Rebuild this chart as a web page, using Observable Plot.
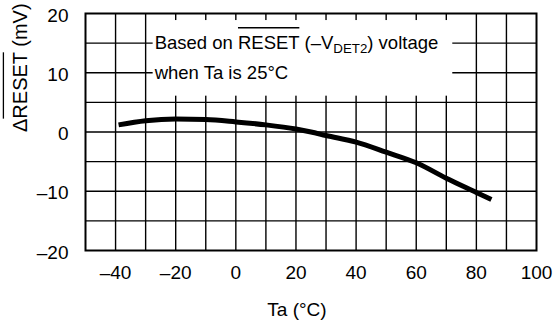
<!DOCTYPE html>
<html><head><meta charset="utf-8">
<script src="https://cdn.jsdelivr.net/npm/d3@7"></script>
<script src="https://cdn.jsdelivr.net/npm/@observablehq/plot@0.6"></script>
<style>html,body{margin:0;padding:0;background:#fff}</style>
</head><body><div id="chart"></div>
<script>
// ---- data ----
const ta = [-39, -30, -20, -10, 0, 10, 20, 25, 30, 40, 50, 60, 70, 80, 85];
const dReset = [1.2, 1.9, 2.2, 2.1, 1.7, 1.2, 0.5, 0, -0.6, -1.7, -3.4, -5.2, -7.8, -10.2, -11.4];
const xTicks = [-40, -20, 0, 20, 40, 60, 80, 100];
const xTickLabels = ["–40", "–20", "0", "20", "40", "60", "80", "100"];
const yTicks = [-20, -10, 0, 10, 20];
const yTickLabels = ["–20", "–10", "0", "10", "20"];
const xGrid = [-40, -30, -20, -10, 0, 10, 20, 30, 40, 50, 60, 70, 80, 90];
const yGrid = [-15, -10, -5, 0, 5, 10, 15];
const annoParts1 = [["Based on ", ""], ["RESET", "over"], [" (–V", ""], ["DET2", "sub"], [") voltage", ""]];
const annoText2 = "when Ta is 25°C";
const annoX = -27;
const annoY = [15, 10];
const yLabelParts = [["Δ", ""], ["RESET", "over"], [" (mV)", ""]];
const xLabel = "Ta (°C)";

const plain = parts => parts.map(p => p[0]).join("");
const annoLines = [plain(annoParts1), annoText2];
const rows = ta.map((t, i) => ({t, v: dReset[i]}));

const plot = Plot.plot({
  width: 553, height: 324,
  marginLeft: 85, marginRight: 17, marginTop: 13, marginBottom: 74,
  style: {fontFamily: "'Liberation Sans', Arial, sans-serif", color: "#000", background: "#fff", overflow: "visible"},
  x: {domain: [-50, 100]},
  y: {domain: [-20, 20]},
  marks: [
    Plot.ruleX(xGrid, {stroke: "#000", strokeWidth: 1.4}),
    Plot.ruleY(yGrid, {stroke: "#000", strokeWidth: 1.4}),
    Plot.line(rows, {x: "t", y: "v", stroke: "#000", strokeWidth: 5, strokeLinecap: "butt", curve: "monotone-x"}),
    Plot.frame({stroke: "#000", strokeWidth: 2}),
    Plot.text(annoLines, {x: () => annoX, y: (d, i) => annoY[i], text: d => d, textAnchor: "start", fontSize: 18.5, fill: "#000"}),
    Plot.text([plain(yLabelParts)], {frameAnchor: "left", text: d => d, rotate: -90, dx: -64.5, fontSize: 20, fill: "#000"}),
    Plot.text([xLabel], {frameAnchor: "bottom", text: d => d, dx: -14, dy: 51.5, lineAnchor: "top", fontSize: 19, fill: "#000"}),
    Plot.axisX({ticks: xTicks, tickSize: 0, tickPadding: 14.5, fontSize: 19, label: null,
      tickFormat: d => xTickLabels[xTicks.indexOf(d)]}),
    Plot.axisY({ticks: yTicks, tickSize: 0, tickPadding: 17, fontSize: 19, label: null, dy: 2,
      tickFormat: d => yTickLabels[yTicks.indexOf(d)]})
  ]
});
document.getElementById("chart").append(plot);

// ---- rich text: overlines and subscripts ----
const NS = "http://www.w3.org/2000/svg";
const allTexts = Array.from(plot.querySelectorAll("text"));
const findText = s => allTexts.find(t => t.textContent === s);

function richify(el, parts, fs) {
  el.textContent = "";
  const overs = [];
  let idx = 0, shifted = false;
  for (const [t, kind] of parts) {
    const ts = document.createElementNS(NS, "tspan");
    ts.textContent = t;
    if (kind === "sub") { ts.setAttribute("font-size", fs * 0.72); ts.setAttribute("dy", 0.19 * fs); shifted = true; }
    else if (shifted) { ts.setAttribute("dy", -0.19 * fs); shifted = false; }
    el.appendChild(ts);
    if (kind === "over") overs.push([idx, idx + t.length - 1]);
    idx += t.length;
  }
  return overs;
}
function overline(el, overs, fs, k) {
  for (const [i, j] of overs) {
    const a = el.getStartPositionOfChar(i), b = el.getEndPositionOfChar(j);
    const ln = document.createElementNS(NS, "line");
    ln.setAttribute("x1", a.x); ln.setAttribute("x2", b.x);
    ln.setAttribute("y1", a.y - k * fs); ln.setAttribute("y2", a.y - k * fs);
    ln.setAttribute("stroke", "#000"); ln.setAttribute("stroke-width", 1.3);
    const tr = el.getAttribute("transform");
    if (tr) ln.setAttribute("transform", tr);
    el.parentNode.appendChild(ln);
  }
}

const a1 = findText(annoLines[0]);
const overs1 = richify(a1, annoParts1, 18.5);
const g = a1.parentNode;
// white box behind the note, measured from the rendered note text (screen coords)
const svgBox = plot.getBoundingClientRect();
const r = g.getBoundingClientRect();
const bx0 = r.left - svgBox.left - 1, bx1 = r.right - svgBox.left + 14;
const by0 = r.top - svgBox.top - 12, by1 = r.bottom - svgBox.top + 13;
const rect = document.createElementNS(NS, "rect");
rect.setAttribute("x", bx0); rect.setAttribute("y", by0);
rect.setAttribute("width", bx1 - bx0); rect.setAttribute("height", by1 - by0);
rect.setAttribute("style", "fill:#fff;stroke:none");
plot.insertBefore(rect, g);
overline(a1, overs1, 18.5, 1.15);

const yl = findText(plain(yLabelParts));
const oversY = richify(yl, yLabelParts, 20);
overline(yl, oversY, 20, 1.2);
</script>
</body></html>
